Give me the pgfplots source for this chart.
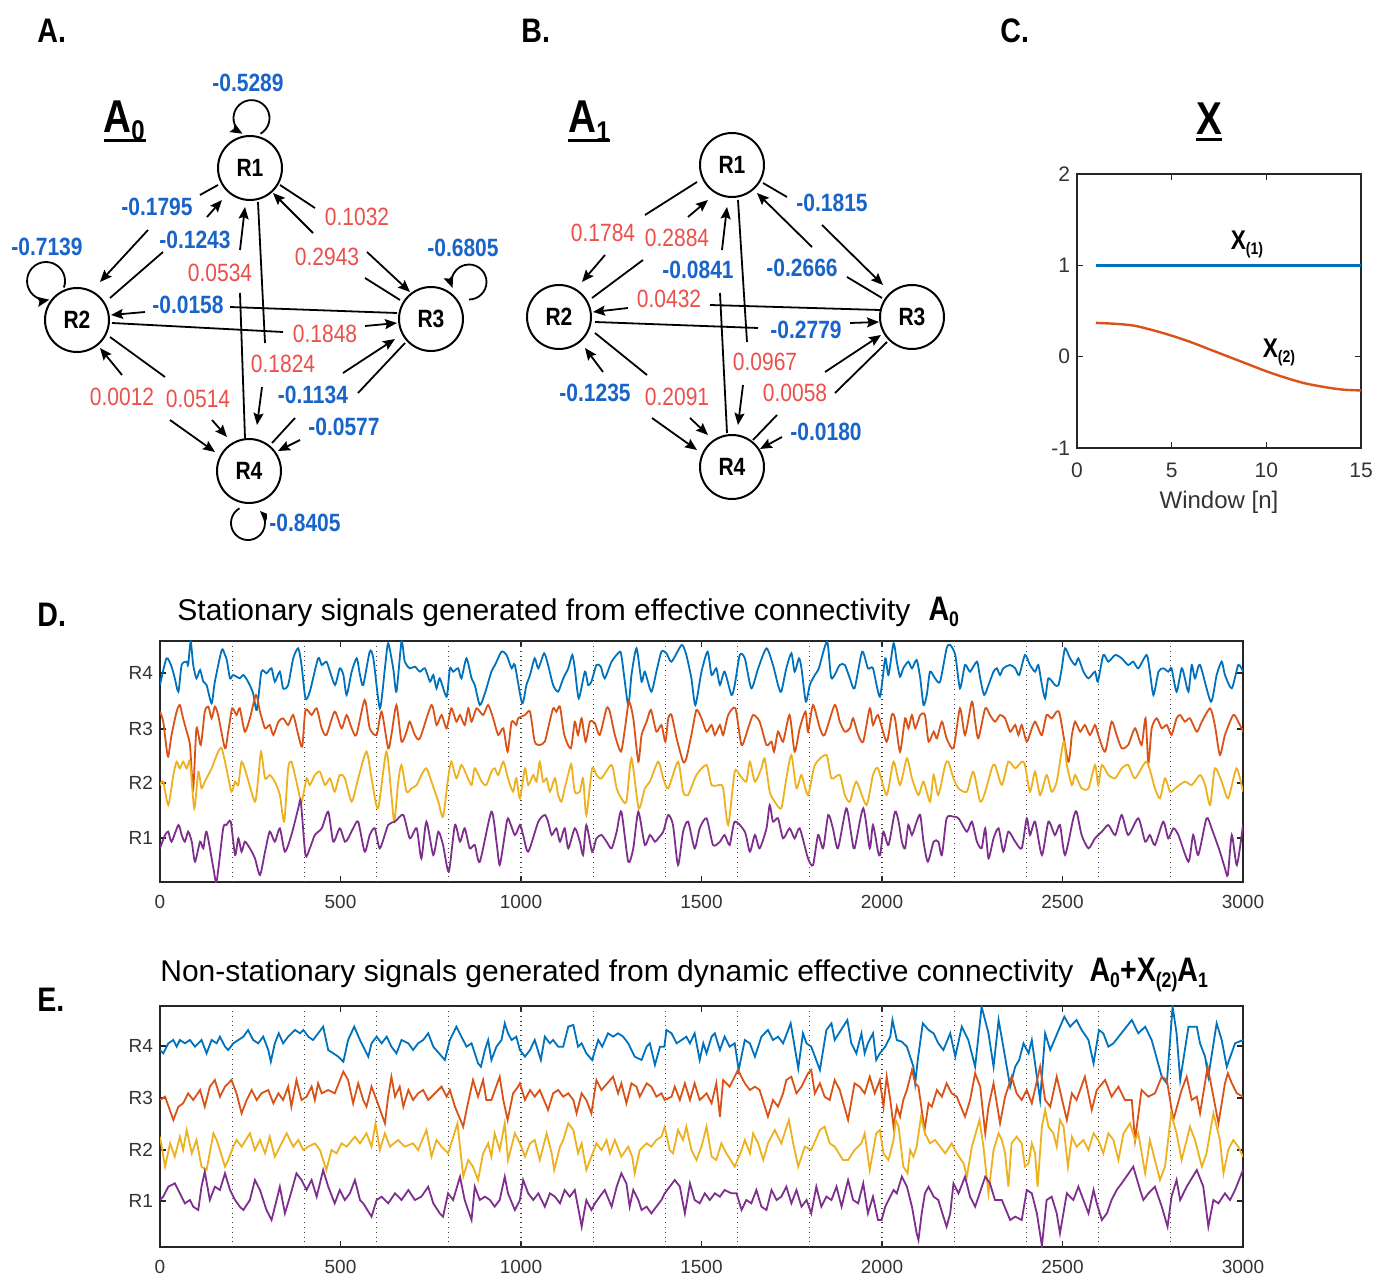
\documentclass[border=0pt]{standalone}
\usepackage{fontspec}
\setmainfont{Liberation Sans}
\newfontfamily\gfam[FakeStretch=0.84]{Liberation Sans}
\usepackage{graphicx}
\usepackage{pgfplots}
\pgfplotsset{compat=1.18}
\usetikzlibrary{arrows.meta}

\definecolor{lblue}{RGB}{25,100,200}
\definecolor{lred}{RGB}{235,80,75}
\definecolor{mblue}{rgb}{0,0.447,0.741}
\definecolor{morange}{rgb}{0.850,0.325,0.098}
\definecolor{myellow}{rgb}{0.929,0.694,0.125}
\definecolor{mpurple}{rgb}{0.494,0.184,0.556}

\newcommand\gf{\gfam\fontsize{12.5}{14}\selectfont}
\newcommand\lsub[1]{\raisebox{-0.35ex}{\scalebox{0.62}{#1}}}

\pgfplotsset{
  mat/.style={scale only axis, axis line style={black!85, line width=0.9pt},
    tick align=inside, tick pos=both, major tick length=3pt,
    tick style={black!85, line width=0.6pt},
    /pgf/number format/assume math mode=true,
    /pgf/number format/1000 sep={}},
  sig/.style={mat, width=541.5pt, height=120.5pt,
    xmin=0, xmax=3000, ymin=0, ymax=723,
    xtick={0,500,...,3000},
    extra x ticks={200,400,...,2800}, extra x tick labels={},
    extra x tick style={grid=major, major tick length=0pt},
    major grid style={black!75, dotted, line width=0.6pt},
    ticklabel style={font=\fontsize{9.5}{11}\selectfont, text=black!80},
    xticklabel style={yshift=-3pt},
    yticklabels={R1,R2,R3,R4}},
}
\tikzset{
  px/.style={x=0.5pt,y=-0.5pt},
  nd/.style={circle, draw, line width=1pt, fill=white, minimum size=32pt, inner sep=0pt, font=\gf\bfseries},
  ar/.style={-{Stealth[length=6pt,width=5pt,inset=1pt]}, line width=0.9pt},
  ln/.style={line width=0.9pt},
  bl/.style={text=lblue, font=\gf\bfseries, fill=white, inner sep=1pt},
  rd/.style={text=lred, font=\gf, fill=white, inner sep=1pt},
}

\begin{document}
\begin{tikzpicture}
\begin{scope}[px]
\useasboundingbox (0,0) rectangle (1389,1277);

% panel letters
\foreach \p/\q/\t in {37/31/A., 521/31/B., 1000/31/C., 37/615/D., 37/1000/E.}
  \node[anchor=west, inner sep=0pt, font=\gfam\bfseries\fontsize{17}{18}\selectfont] at (\p,\q) {\t};

% ---------- A0 graph ----------
\node[font=\gfam\bfseries\fontsize{23}{24}\selectfont] at (124,121) {A\lsub{0}};
\draw[line width=1.5pt] (104,141) -- (146,141);

\draw[ln] (218,185) -- (200,195);
\draw[ar] (148,230) -- (100,282);
\draw[ar] (207,217) -- (222,200);
\draw[ln] (163,252) -- (110,298);
\draw[ar] (240,250) -- (245,207);
\draw[ln] (240,293) -- (245,438);
\draw[ln] (258,202) -- (265,343);
\draw[ar] (262,387) -- (257,425);
\draw[ln] (280,185) -- (315,208);
\draw[ar] (367,252) -- (410,292);
\draw[ar] (313,233) -- (273,193);
\draw[ln] (400,300) -- (365,278);
\draw[ln] (397,313) -- (230,307);
\draw[ar] (145,312) -- (111,315);
\draw[ln] (112,323) -- (283,332);
\draw[ar] (365,326) -- (397,323);
\draw[ln] (110,337) -- (165,377);
\draw[ar] (212,420) -- (227,437);
\draw[ar] (122,375) -- (100,348);
\draw[ar] (170,420) -- (215,452);
\draw[ar] (343,373) -- (395,339);
\draw[ln] (405,343) -- (358,393);
\draw[ln] (295,418) -- (272,443);
\draw[ar] (300,440) -- (278,451);
% self loops
\draw[ar] (260.5,133.7) arc[start angle=60, end angle=-240, radius=18];
\draw[ar] (63.9,287.5) arc[start angle=20, end angle=-280, radius=19];
\draw[ar] (469,299.5) arc[start angle=90, end angle=-200, radius=17.5];
\draw[ar] (239.5,508.3) arc[start angle=-120, end angle=-405, radius=17];

\node[bl] at (248,83) {-0.5289};
\node[bl] at (47,247) {-0.7139};
\node[bl] at (463,248) {-0.6805};
\node[bl] at (305,523) {-0.8405};
\node[bl] at (157,207) {-0.1795};
\node[bl] at (195,240) {-0.1243};
\node[rd] at (220,273) {0.0534};
\node[rd] at (357,217) {0.1032};
\node[rd] at (327,257) {0.2943};
\node[bl] at (188,305) {-0.0158};
\node[rd] at (325,334) {0.1848};
\node[rd] at (283,364) {0.1824};
\node[rd] at (122,397) {0.0012};
\node[rd] at (198,399) {0.0514};
\node[bl] at (313,395) {-0.1134};
\node[bl] at (344,427) {-0.0577};

\node[nd] at (250,168) {R1};
\node[nd] at (77,320) {R2};
\node[nd] at (431,319) {R3};
\node[nd] at (249,471) {R4};

% ---------- A1 graph ----------
\node[font=\gfam\bfseries\fontsize{23}{24}\selectfont] at (589,121) {A\lsub{1}};
\draw[line width=1.5pt] (568,141) -- (610,141);

\draw[ln] (697,182) -- (645,215);
\draw[ar] (605,255) -- (582,282);
\draw[ar] (688,217) -- (708,200);
\draw[ln] (643,260) -- (592,298);
\draw[ar] (722,250) -- (727,207);
\draw[ln] (720,293) -- (727,433);
\draw[ln] (738,200) -- (747,342);
\draw[ar] (743,385) -- (738,425);
\draw[ln] (763,183) -- (787,197);
\draw[ar] (822,225) -- (883,285);
\draw[ar] (812,247) -- (757,193);
\draw[ln] (882,298) -- (847,277);
\draw[ln] (880,310) -- (710,305);
\draw[ar] (628,308) -- (593,312);
\draw[ln] (595,322) -- (758,328);
\draw[ar] (850,323) -- (879,322);
\draw[ln] (595,333) -- (647,375);
\draw[ar] (690,418) -- (708,435);
\draw[ar] (603,372) -- (585,348);
\draw[ar] (652,418) -- (697,450);
\draw[ar] (825,372) -- (881,335);
\draw[ln] (887,342) -- (835,393);
\draw[ln] (777,415) -- (753,440);
\draw[ar] (782,437) -- (760,449);

\node[rd] at (603,233) {0.1784};
\node[rd] at (677,238) {0.2884};
\node[bl] at (698,270) {-0.0841};
\node[bl] at (832,203) {-0.1815};
\node[bl] at (802,268) {-0.2666};
\node[rd] at (669,299) {0.0432};
\node[bl] at (806,330) {-0.2779};
\node[rd] at (765,362) {0.0967};
\node[rd] at (795,393) {0.0058};
\node[bl] at (595,393) {-0.1235};
\node[rd] at (677,397) {0.2091};
\node[bl] at (826,432) {-0.0180};

\node[nd] at (732,165) {R1};
\node[nd] at (559,317) {R2};
\node[nd] at (912,317) {R3};
\node[nd] at (732,467) {R4};

% ---------- titles ----------
\node[font=\gfam\bfseries\fontsize{23}{24}\selectfont] at (1209,119) {X};
\draw[line width=1.5pt] (1196,140) -- (1222,140);
\node[font=\gfam\bfseries\fontsize{13.5}{14}\selectfont] at (1247,244) {X\lsub{(1)}};
\node[font=\gfam\bfseries\fontsize{13.5}{14}\selectfont] at (1279,352) {X\lsub{(2)}};

\node[anchor=west, inner sep=0pt, font=\fontsize{15}{17}\selectfont] at (177,612)
  {Stationary signals generated from effective connectivity\hspace{9pt}{\gfam\bfseries\fontsize{17}{18}\selectfont A\lsub{0}}};
\node[anchor=west, inner sep=0pt, font=\fontsize{15}{17}\selectfont] at (160,975)
  {Non-stationary signals generated from dynamic effective connectivity\hspace{8pt}{\gfam\bfseries\fontsize{17}{18}\selectfont A\lsub{0}+X\lsub{(2)}A\lsub{1}}};
\end{scope}

% ---------- C: X ----------
\begin{axis}[mat, at={(538.5pt,-224pt)}, anchor=south west, width=142pt, height=137pt,
  xmin=0, xmax=15, ymin=-1, ymax=2, xtick={0,5,10,15}, ytick={-1,0,1,2},
  xlabel={Window [n]},
  ticklabel style={font=\fontsize{10.5}{12}\selectfont, text=black!80},
  xticklabel style={yshift=-4pt},
  xlabel style={font=\fontsize{12}{14}\selectfont, text=black!80, yshift=0.5pt}]
\addplot[mblue, line width=1.2pt, no markers] coordinates {
(1,1) (2,1) (3,1) (4,1) (5,1) (6,1) (7,1) (8,1) (9,1) (10,1) (11,1) (12,1) (13,1) (14,1) (15,1)};
\addplot[morange, line width=1.2pt, no markers, smooth] coordinates {
(1,0.37) (2,0.36) (3,0.34) (4,0.29) (5,0.23) (6,0.16) (7,0.08) (8,0.00)
(9,-0.08) (10,-0.16) (11,-0.23) (12,-0.29) (13,-0.33) (14,-0.36) (15,-0.37)};
\end{axis}

% ---------- D ----------
\begin{axis}[sig, at={(80pt,-441pt)}, anchor=south west, ytick={132,297,459,627}]
\addplot[mblue, line width=0.9pt, no markers, smooth, tension=0.4] coordinates {
(0,591) (18,671) (32,646) (41,611) (51,571) (60,651) (74,661) (78,651) (85,721) (92,651) (101,611) (111,636) (120,601) (129,591) (143,536) (152,601) (171,696) (180,681) (185,666) (194,611) (203,621) (221,611) (231,621) (244,601) (258,566) (268,516) (281,631) (295,626) (309,641) (318,601) (332,631) (341,581) (355,591) (369,671) (383,701) (392,651) (403,551) (415,571) (438,671) (448,651) (461,661) (471,631) (485,591) (498,641) (508,621) (517,561) (531,631) (545,671) (554,621) (563,591) (581,691) (591,671) (609,521) (623,641) (632,716) (646,641) (655,571) (669,721) (678,661) (692,641) (706,646) (720,631) (734,641) (748,601) (757,621) (766,581) (775,611) (794,556) (803,641) (812,631) (826,641) (835,611) (849,671) (863,611) (872,591) (886,531) (900,566) (918,631) (928,651) (946,691) (960,681) (974,641) (983,651)
(1003,536) (1015,591) (1025,621) (1038,671) (1048,641) (1064,686) (1075,651) (1089,591) (1103,571) (1117,611) (1131,641) (1142,681) (1149,641) (1160,551) (1177,631) (1186,591) (1195,601) (1209,651) (1221,646) (1232,611) (1251,661) (1274,691) (1280,666) (1297,531) (1306,621) (1320,701) (1334,601) (1343,631) (1361,571) (1375,631) (1389,691) (1403,686) (1417,661) (1445,711) (1458,681) (1472,611) (1483,531) (1500,631) (1517,691) (1528,621) (1541,641) (1551,591) (1564,631) (1583,561) (1592,591) (1606,681) (1620,671) (1638,581) (1657,641) (1680,701) (1698,651) (1712,591) (1721,571) (1735,641) (1749,686) (1758,631) (1770,671) (1777,641) (1789,541) (1800,591) (1814,621) (1825,641) (1848,721) (1860,611) (1883,651) (1897,651) (1911,611) (1924,581) (1945,691) (1961,641) (1975,641) (1994,556)
(2009,671) (2018,621) (2032,716) (2041,661) (2050,616) (2059,641) (2073,661) (2083,641) (2096,666) (2106,611) (2115,531) (2124,561) (2133,631) (2147,611) (2161,601) (2179,701) (2189,711) (2203,681) (2216,581) (2230,651) (2244,631) (2263,661) (2272,611) (2283,561) (2295,591) (2309,631) (2318,641) (2327,621) (2336,641) (2355,651) (2369,641) (2380,621) (2396,681) (2410,651) (2424,631) (2433,651) (2443,591) (2452,551) (2461,611) (2479,591) (2489,591) (2498,641) (2507,701) (2521,671) (2535,651) (2544,671) (2558,631) (2572,611) (2590,631) (2598,601) (2613,681) (2627,661) (2646,681) (2664,671) (2682,651) (2696,661) (2710,641) (2733,681) (2742,631) (2752,561) (2766,631) (2779,641) (2793,631) (2802,641) (2816,571) (2830,641) (2839,611) (2849,571) (2858,651) (2867,611) (2881,651) (2911,541) (2927,621) (2941,661) (2950,621) (2969,581) (2987,651) (3000,631)};
\addplot[morange, line width=0.9pt, no markers, smooth, tension=0.4] coordinates {
(0,511) (9,481) (18,401) (23,376) (32,441) (46,511) (55,531) (64,491) (74,451) (83,411) (92,281) (101,461) (113,411) (124,511) (134,526) (143,491) (152,526) (161,501) (180,401) (189,451) (200,521) (212,501) (221,521) (235,451) (249,491) (266,561) (277,511) (291,461) (304,471) (314,441) (328,481) (341,491) (355,471) (369,501) (383,441) (394,406) (403,516) (420,501) (434,521) (448,461) (461,441) (484,511) (503,461) (517,501) (531,461) (544,441) (567,546) (581,461) (600,441) (614,511) (632,401) (641,441) (655,531) (669,421) (683,451) (692,481) (706,441) (720,431) (752,531) (766,471) (780,501) (794,461) (807,521) (821,481) (831,501) (844,471) (854,521) (863,481) (877,521) (895,501) (909,531) (923,491) (937,441) (951,461) (963,391) (974,481) (987,471)
(992,491) (1011,501) (1025,511) (1038,421) (1052,411) (1066,421) (1075,461) (1089,521) (1098,511) (1108,526) (1120,441) (1138,401) (1149,481) (1158,441) (1168,491) (1179,421) (1191,481) (1205,476) (1218,441) (1237,521) (1246,511) (1260,441) (1277,391) (1288,461) (1299,541) (1311,491) (1325,361) (1334,441) (1348,481) (1360,516) (1375,451) (1389,471) (1400,421) (1408,491) (1417,501) (1431,431) (1449,361) (1458,371) (1472,441) (1486,516) (1500,491) (1514,451) (1528,471) (1537,441) (1551,471) (1560,441) (1574,501) (1594,521) (1611,411) (1629,461) (1643,501) (1661,481) (1680,411) (1694,421) (1701,391) (1712,451) (1726,421) (1744,501) (1758,391) (1772,461) (1788,511) (1795,451) (1809,531) (1828,461) (1841,441) (1869,531) (1883,481) (1897,451) (1911,461) (1920,491) (1934,441) (1948,421) (1966,521) (1975,471) (1989,501)
(2013,421) (2027,501) (2036,491) (2050,391) (2064,491) (2073,461) (2083,501) (2092,461) (2106,501) (2119,501) (2129,421) (2143,451) (2152,431) (2166,481) (2179,431) (2198,401) (2216,521) (2230,441) (2249,541) (2258,481) (2267,431) (2286,521) (2299,501) (2313,481) (2327,501) (2341,491) (2355,451) (2369,471) (2378,441) (2387,471) (2401,421) (2415,461) (2424,481) (2433,461) (2443,441) (2456,501) (2470,491) (2484,511) (2493,501) (2516,361) (2526,441) (2535,481) (2549,451) (2562,471) (2576,441) (2590,471) (2599,441) (2618,391) (2636,481) (2650,441) (2664,401) (2682,411) (2701,461) (2719,411) (2730,491) (2738,356) (2747,461) (2761,491) (2775,461) (2789,471) (2802,441) (2816,491) (2826,501) (2839,481) (2853,491) (2872,451) (2886,481) (2909,521) (2922,471) (2936,381) (2950,441) (2973,501) (2987,481) (3000,451)};
\addplot[myellow, line width=0.9pt, no markers, smooth, tension=0.4] coordinates {
(0,291) (9,301) (23,231) (37,321) (46,361) (55,341) (64,361) (74,341) (83,361) (95,221) (106,331) (115,281) (124,301) (143,341) (161,391) (171,401) (184,341) (198,271) (208,301) (217,291) (226,361) (240,321) (263,241) (272,311) (280,391) (291,311) (304,321) (318,301) (332,261) (344,181) (355,341) (364,361) (378,301) (392,241) (406,311) (415,291) (429,321) (443,331) (457,291) (471,311) (484,271) (498,321) (512,311) (531,241) (549,311) (572,391) (586,311) (604,221) (627,391) (641,261) (649,181) (660,301) (669,351) (683,271) (697,281) (711,291) (724,321) (738,341) (752,301) (771,241) (784,196) (798,311) (807,361) (821,311) (835,351) (849,321) (863,291) (872,341) (891,301) (904,291) (918,331) (927,341) (937,321) (951,361) (964,311) (978,271) (987,311)
(997,251) (1011,341) (1020,291) (1034,321) (1043,301) (1052,361) (1061,301) (1071,311) (1080,271) (1094,311) (1103,261) (1112,241) (1121,281) (1135,341) (1140,351) (1149,271) (1163,271) (1172,311) (1181,201) (1197,341) (1209,321) (1223,311) (1251,351) (1265,281) (1278,251) (1292,241) (1306,371) (1326,221) (1343,281) (1357,301) (1380,361) (1394,311) (1408,281) (1435,361) (1449,271) (1463,261) (1486,321) (1514,351) (1528,291) (1551,291) (1560,281) (1574,171) (1592,331) (1606,321) (1624,301) (1634,361) (1648,301) (1666,341) (1675,371) (1689,271) (1703,241) (1721,221) (1735,311) (1749,381) (1763,281) (1777,321) (1795,261) (1814,351) (1846,381) (1860,311) (1883,321) (1897,261) (1911,241) (1929,301) (1957,231) (1975,321) (1989,341)
(2013,261) (2032,361) (2050,291) (2069,371) (2083,311) (2101,261) (2115,301) (2133,241) (2143,321) (2156,261) (2175,351) (2184,361) (2198,311) (2212,281) (2235,271) (2253,331) (2272,241) (2286,271) (2304,341) (2313,351) (2332,291) (2350,361) (2369,341) (2387,361) (2396,351) (2410,271) (2424,331) (2438,261) (2456,321) (2470,271) (2484,301) (2503,421) (2512,351) (2526,291) (2535,321) (2553,281) (2572,281) (2590,351) (2599,291) (2609,351) (2627,321) (2646,311) (2664,341) (2682,351) (2701,311) (2733,361) (2756,281) (2770,251) (2784,311) (2798,271) (2812,281) (2839,301) (2858,291) (2881,321) (2895,291) (2909,231) (2922,341) (2941,301) (2959,251) (2982,341) (3000,271)};
\addplot[mpurple, line width=0.9pt, no markers, smooth, tension=0.4] coordinates {
(0,101) (14,141) (23,151) (32,121) (51,171) (60,141) (69,121) (78,151) (88,121) (97,61) (111,121) (120,101) (129,151) (148,41) (157,3) (175,161) (184,171) (196,181) (208,81) (217,131) (226,91) (235,121) (249,101) (263,71) (277,21) (291,91) (304,151) (318,121) (332,161) (346,91) (364,141) (383,221) (390,241) (403,81) (415,101) (429,141) (448,161) (466,211) (480,121) (498,161) (512,121) (521,131) (535,161) (549,181) (567,91) (581,141) (595,161) (609,101) (632,171) (651,181) (674,201) (692,131) (711,161) (724,71) (738,181) (757,81) (771,151) (784,111) (800,31) (817,171) (831,121) (844,161) (858,101) (872,111) (886,61) (918,211) (932,121) (941,51) (955,141) (964,191) (983,141) (997,171)
(1006,141) (1020,91) (1048,181) (1066,201) (1075,181) (1085,141) (1098,161) (1108,121) (1121,161) (1131,101) (1149,161) (1163,121) (1172,81) (1181,171) (1197,91) (1209,131) (1223,141) (1237,121) (1251,101) (1265,151) (1278,211) (1297,61) (1311,101) (1325,211) (1343,111) (1357,141) (1371,121) (1380,131) (1394,151) (1408,201) (1421,171) (1435,51) (1449,151) (1463,181) (1481,101) (1495,161) (1514,191) (1532,111) (1551,121) (1564,141) (1578,111) (1592,181) (1620,151) (1634,91) (1648,141) (1661,101) (1680,161) (1689,231) (1698,181) (1712,191) (1726,131) (1744,161) (1758,131) (1772,161) (1795,71) (1809,51) (1823,141) (1837,101) (1851,201) (1864,161) (1878,101) (1901,221) (1915,141) (1924,101) (1948,221) (1966,101) (1975,171) (1989,91)
(1995,81) (2004,151) (2018,111) (2036,211) (2046,181) (2055,121) (2064,101) (2073,171) (2083,141) (2096,181) (2106,201) (2115,121) (2127,61) (2143,121) (2156,121) (2166,81) (2179,191) (2198,196) (2212,191) (2235,151) (2249,181) (2263,121) (2276,101) (2286,161) (2295,71) (2309,131) (2323,161) (2336,91) (2350,151) (2369,121) (2387,101) (2401,191) (2410,141) (2424,181) (2443,81) (2461,181) (2479,141) (2493,171) (2507,81) (2530,191) (2539,211) (2553,141) (2572,101) (2590,131) (2609,151) (2627,171) (2646,141) (2664,201) (2682,141) (2710,191) (2729,121) (2742,141) (2756,111) (2779,181) (2793,131) (2807,161) (2821,141) (2849,61) (2862,141) (2876,81) (2899,191) (2913,161) (2936,91) (2950,41) (2958,21) (2969,141) (2983,51) (3000,171)};
\end{axis}

% ---------- E ----------
\begin{axis}[sig, at={(80pt,-623.5pt)}, anchor=south west, ytick={138,291,447,603}]
\addplot[mblue, line width=0.9pt, no markers] coordinates {
(0,591) (9,581) (23,611) (37,621) (46,601) (55,621) (69,611) (83,621) (97,601) (115,621) (129,581) (143,621) (157,611) (166,631) (180,601) (189,591) (203,611) (217,621) (231,631) (244,651) (258,621) (272,611) (286,631) (300,591) (307,556) (318,611) (329,641) (341,611) (355,631) (374,651) (388,641) (397,651) (411,631) (424,621) (452,661) (466,591) (480,581) (494,571) (508,556) (521,621) (538,661) (554,621) (563,601) (577,571) (586,611) (600,631) (614,611) (628,631) (641,601) (655,581) (669,621) (688,611) (701,591) (715,611) (729,621) (743,641) (757,601) (789,561) (803,621) (821,661) (835,631) (849,601) (863,611) (881,551) (889,541) (900,591) (909,621) (918,561) (932,601) (946,621) (955,671) (964,641) (974,621) (987,631)
(997,591) (1011,571) (1025,591) (1038,621) (1055,561) (1066,631) (1080,611) (1089,621) (1103,601) (1117,601) (1131,661) (1145,666) (1158,601) (1168,611) (1181,581) (1197,561) (1214,621) (1225,601) (1241,641) (1255,631) (1269,641) (1283,631) (1297,611) (1315,571) (1334,561) (1348,601) (1357,611) (1371,546) (1385,601) (1397,601) (1403,651) (1417,641) (1431,611) (1445,621) (1458,631) (1468,611) (1481,641) (1495,561) (1505,611) (1514,581) (1528,631) (1537,641) (1551,591) (1564,631) (1578,601) (1592,611) (1603,531) (1620,621) (1634,611) (1648,571) (1666,631) (1684,651) (1698,621) (1712,631) (1726,611) (1747,671) (1758,601) (1768,536) (1781,641) (1791,611) (1804,601) (1828,531) (1846,651) (1860,671) (1869,621) (1904,681) (1915,611) (1929,581) (1943,641) (1952,581) (1961,611) (1975,641) (1984,561) (1994,581)
(2009,601) (2023,631) (2029,681) (2041,621) (2055,616) (2069,601) (2087,541) (2092,491) (2099,561) (2113,671) (2129,651) (2143,641) (2156,611) (2170,591) (2189,641) (2203,571) (2221,661) (2239,621) (2258,541) (2276,721) (2295,641) (2309,541) (2323,681) (2336,601) (2355,481) (2369,541) (2380,561) (2392,611) (2406,581) (2415,621) (2429,511) (2438,441) (2452,641) (2466,591) (2505,691) (2521,661) (2539,681) (2553,651) (2572,621) (2586,551) (2601,651) (2613,641) (2627,601) (2641,611) (2692,681) (2710,641) (2729,661) (2747,621) (2775,511) (2789,491) (2805,721) (2816,641) (2826,501) (2849,661) (2872,661) (2881,611) (2895,571) (2904,511) (2927,671) (2941,621) (2955,541) (2978,611) (3000,621)};
\addplot[morange, line width=0.9pt, no markers] coordinates {
(0,441) (14,451) (37,381) (51,421) (64,431) (78,461) (92,441) (111,471) (124,421) (138,481) (152,501) (166,451) (180,481) (198,501) (212,461) (226,401) (240,441) (254,471) (268,441) (281,461) (300,471) (314,431) (328,461) (341,441) (355,481) (364,421) (378,501) (392,441) (406,451) (420,481) (429,441) (438,491) (448,461) (466,471) (484,461) (508,526) (521,501) (535,431) (549,491) (563,441) (572,421) (586,481) (600,441) (623,371) (632,451) (641,511) (651,451) (664,481) (674,421) (688,471) (701,441) (715,461) (729,471) (743,441) (780,481) (794,451) (803,471) (817,421) (840,361) (849,411) (867,501) (881,451) (895,501) (904,441) (918,441) (941,511) (951,441) (963,381) (978,461) (992,481)
(997,491) (1011,441) (1025,471) (1038,451) (1052,471) (1075,411) (1089,461) (1103,471) (1117,451) (1131,461) (1145,441) (1154,401) (1168,461) (1181,441) (1195,401) (1209,501) (1223,471) (1255,511) (1269,461) (1278,491) (1292,431) (1306,491) (1320,481) (1329,451) (1348,491) (1361,481) (1375,451) (1389,461) (1398,441) (1417,451) (1426,481) (1440,441) (1454,491) (1468,441) (1481,491) (1495,441) (1514,461) (1528,431) (1541,491) (1551,391) (1560,501) (1578,481) (1601,531) (1620,491) (1634,471) (1648,481) (1661,471) (1684,391) (1698,441) (1712,421) (1726,461) (1735,501) (1749,511) (1763,461) (1777,481) (1795,521) (1804,531) (1814,461) (1828,491) (1841,451) (1855,441) (1869,501) (1883,471) (1906,381) (1924,491) (1938,481) (1952,461) (1966,511) (1980,461) (1994,501)
(2004,421) (2013,511) (2023,441) (2032,361) (2041,421) (2050,391) (2059,441) (2069,471) (2083,531) (2092,491) (2101,481) (2118,351) (2129,431) (2138,421) (2152,471) (2166,451) (2179,491) (2193,461) (2207,451) (2230,391) (2244,441) (2258,521) (2272,481) (2286,341) (2295,421) (2309,491) (2327,371) (2341,451) (2359,511) (2373,461) (2387,441) (2401,471) (2415,431) (2438,541) (2452,441) (2466,421) (2484,511) (2512,381) (2526,461) (2539,441) (2562,511) (2581,411) (2595,471) (2618,501) (2636,451) (2655,481) (2673,441) (2692,441) (2701,321) (2719,471) (2738,451) (2756,461) (2775,511) (2789,501) (2807,381) (2830,471) (2844,511) (2858,441) (2872,451) (2881,401) (2902,541) (2918,451) (2932,371) (2950,491) (2958,521) (2969,491) (2983,461) (3000,451)};
\addplot[myellow, line width=0.9pt, no markers] coordinates {
(0,331) (14,241) (28,311) (41,271) (55,331) (64,291) (74,351) (88,281) (101,321) (115,241) (129,231) (148,341) (157,321) (166,291) (180,241) (189,261) (203,301) (212,321) (226,301) (249,341) (263,291) (277,321) (291,281) (304,331) (318,271) (332,301) (351,341) (369,301) (383,321) (397,291) (411,301) (429,311) (443,291) (461,231) (475,291) (489,281) (503,311) (517,301) (540,331) (554,311) (572,341) (586,301) (597,371) (609,291) (623,341) (637,301) (660,321) (678,301) (701,311) (715,291) (738,351) (752,271) (766,321) (780,301) (798,281) (824,371) (840,211) (854,261) (867,241) (881,201) (895,281) (909,311) (918,271) (927,341) (941,291) (955,371) (964,261) (983,341) (997,311)
(1011,271) (1025,311) (1038,321) (1052,261) (1071,341) (1085,281) (1092,231) (1108,301) (1117,321) (1131,371) (1145,351) (1158,281) (1168,311) (1181,231) (1195,271) (1209,311) (1223,291) (1237,321) (1246,281) (1260,321) (1278,271) (1297,301) (1308,271) (1315,221) (1329,291) (1348,311) (1361,301) (1375,321) (1389,331) (1398,361) (1412,291) (1421,281) (1435,351) (1449,321) (1458,361) (1472,291) (1486,261) (1500,301) (1514,361) (1528,271) (1541,261) (1555,311) (1569,281) (1592,241) (1611,291) (1620,321) (1634,281) (1643,341) (1657,311) (1671,261) (1684,311) (1703,351) (1721,311) (1742,381) (1754,311) (1768,241) (1786,301) (1804,291) (1828,351) (1841,361) (1855,311) (1869,301) (1892,261) (1906,261) (1924,291) (1943,311) (1952,341) (1966,231) (1984,341) (1994,351)
(2004,281) (2018,261) (2032,321) (2038,381) (2046,361) (2059,241) (2071,221) (2078,291) (2087,271) (2096,301) (2108,391) (2119,341) (2133,311) (2147,321) (2161,301) (2175,281) (2193,311) (2207,281) (2226,251) (2235,211) (2249,301) (2270,381) (2281,301) (2295,161) (2309,291) (2323,341) (2332,321) (2341,281) (2350,181) (2359,311) (2373,331) (2387,311) (2396,241) (2406,251) (2415,311) (2424,281) (2431,181) (2443,361) (2452,411) (2461,361) (2475,341) (2484,301) (2493,381) (2503,361) (2515,241) (2526,331) (2539,301) (2558,321) (2572,291) (2586,341) (2599,321) (2613,281) (2627,341) (2641,321) (2655,261) (2669,341) (2687,371) (2701,321) (2710,341) (2729,221) (2742,321) (2756,261) (2770,201) (2784,241) (2801,401) (2816,341) (2830,261) (2844,321) (2853,361) (2867,321) (2886,241) (2899,281) (2918,401) (2936,321) (2946,221) (2959,291) (2973,321) (2987,301) (3000,271)};
\addplot[mpurple, line width=0.9pt, no markers] coordinates {
(0,141) (9,151) (23,181) (41,191) (55,161) (69,131) (83,141) (92,121) (106,111) (115,181) (124,226) (138,141) (152,181) (166,171) (180,221) (194,171) (208,141) (221,121) (231,111) (249,141) (263,201) (277,171) (295,111) (309,81) (323,141) (332,181) (346,101) (360,151) (378,221) (392,201) (406,171) (420,201) (434,151) (452,231) (466,181) (484,131) (498,171) (512,141) (526,161) (540,201) (554,141) (563,131) (586,91) (600,141) (614,151) (632,131) (651,161) (669,141) (688,171) (706,141) (724,151) (743,181) (757,131) (775,101) (784,91) (798,161) (812,141) (831,211) (844,141) (863,81) (872,181) (886,141) (900,151) (914,141) (927,121) (941,141) (955,211) (964,161) (983,111) (997,141)
(1006,201) (1020,161) (1034,141) (1048,161) (1066,121) (1080,161) (1094,151) (1108,131) (1121,171) (1135,151) (1149,171) (1163,91) (1168,61) (1181,141) (1195,111) (1205,131) (1218,151) (1232,171) (1251,121) (1265,181) (1278,221) (1292,191) (1301,121) (1311,171) (1325,141) (1334,111) (1348,121) (1361,101) (1375,121) (1389,141) (1398,161) (1412,181) (1426,201) (1440,181) (1454,101) (1468,191) (1481,141) (1495,131) (1509,161) (1523,141) (1537,161) (1551,151) (1564,171) (1583,161) (1597,161) (1611,111) (1624,141) (1638,131) (1652,171) (1666,121) (1680,111) (1694,171) (1708,141) (1721,151) (1735,181) (1749,131) (1763,171) (1777,121) (1791,141) (1804,101) (1818,181) (1832,121) (1846,151) (1860,141) (1874,181) (1888,121) (1906,201) (1920,141) (1934,131) (1948,191) (1961,101) (1975,151) (1989,81)
(1999,81) (2009,121) (2032,171) (2041,161) (2055,211) (2069,181) (2083,121) (2096,41) (2101,21) (2110,101) (2119,161) (2129,181) (2143,151) (2156,141) (2170,91) (2179,61) (2189,101) (2198,191) (2212,161) (2230,211) (2244,151) (2258,121) (2286,211) (2299,191) (2313,141) (2332,141) (2355,81) (2369,91) (2387,81) (2401,171) (2415,161) (2429,101) (2443,3) (2456,141) (2470,151) (2484,101) (2493,41) (2512,161) (2530,141) (2544,181) (2558,141) (2572,101) (2586,171) (2595,131) (2609,81) (2623,101) (2636,141) (2650,171) (2664,191) (2696,241) (2715,171) (2724,141) (2738,161) (2756,181) (2775,121) (2791,61) (2802,151) (2816,201) (2826,141) (2844,181) (2872,231) (2890,181) (2904,61) (2918,141) (2932,131) (2950,161) (2964,141) (2978,171) (3000,231)};
\end{axis}
\end{tikzpicture}
\end{document}
